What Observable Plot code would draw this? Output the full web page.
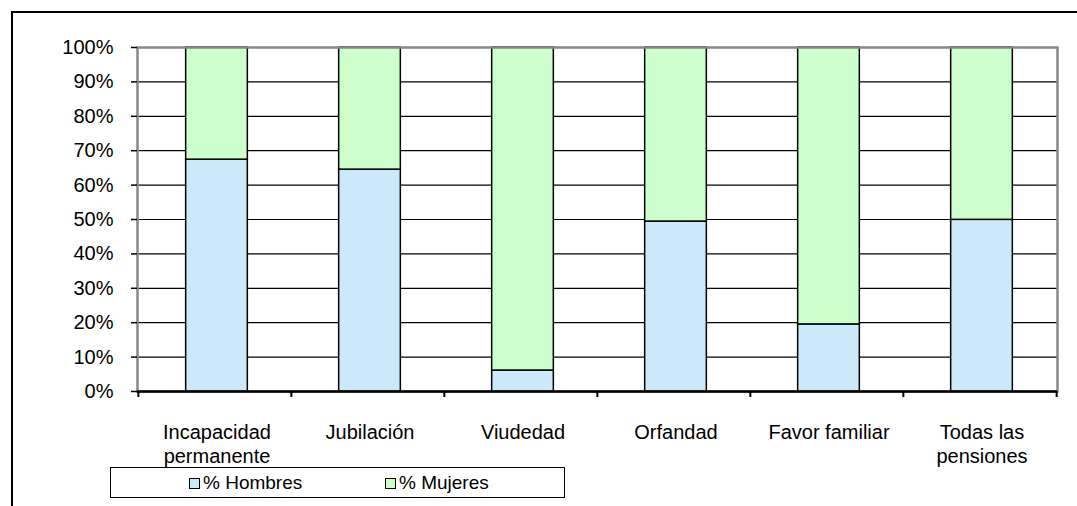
<!DOCTYPE html>
<html>
<head>
<meta charset="utf-8">
<script src="https://cdn.jsdelivr.net/npm/d3@7"></script>
<script src="https://cdn.jsdelivr.net/npm/@observablehq/plot@0.6"></script>
<style>
  body { margin: 0; background: #fff; }
  #wrap { position: relative; width: 1077px; height: 506px; overflow: hidden; background: #fff; font-family: "Liberation Sans", Arial, sans-serif; }
  #frame { position: absolute; left: 11px; top: 11px; width: 1080px; height: 520px; border-left: 2px solid #000; border-top: 2px solid #000; }
  #chart { position: absolute; left: 0; top: 0; }
  #legend { position: absolute; left: 110px; top: 467px; width: 453px; height: 29px; border: 1.5px solid #000; font-size: 19px; color: #000; background: #fff; }
  .item { position: absolute; top: 4px; display: flex; align-items: center; white-space: nowrap; }
  .sw { width: 9px; height: 9px; border: 1.5px solid #000; margin-right: 3px; display: inline-block; }
</style>
</head>
<body>
<div id="wrap">
  <div id="frame"></div>
  <div id="chart"></div>
  <div id="legend"></div>
</div>
<script>
const categories = ["Incapacidad\npermanente", "Jubilación", "Viudedad", "Orfandad", "Favor familiar", "Todas las\npensiones"];
const hombres = [67.4, 64.5, 6.1, 49.4, 19.5, 49.9];
const mujeres = [32.6, 35.5, 93.9, 50.6, 80.5, 50.1];
const seriesNames = ["% Hombres", "% Mujeres"];
const seriesColors = ["#CCE9FB", "#CCFFCC"];
const yTicks = [0, 10, 20, 30, 40, 50, 60, 70, 80, 90, 100];

const data = [];
categories.forEach((c, i) => {
  data.push({cat: c, serie: seriesNames[0], value: hombres[i]});
  data.push({cat: c, serie: seriesNames[1], value: mujeres[i]});
});

const W = 1077, H = 506, mL = 137, mR = 20, mT = 47, mB = 115;
const step = (W - mL - mR) / categories.length;
const barW = 62;
const inset = (step - barW) / 2;
const plotH = H - mT - mB;
const tickLen = 6 / (plotH / 100);

const chart = Plot.plot({
  width: W,
  height: H,
  marginLeft: mL,
  marginRight: mR,
  marginTop: mT,
  marginBottom: mB,
  style: {fontFamily: "Liberation Sans, Arial, sans-serif", fontSize: "20px", color: "#000", background: "transparent"},
  x: {domain: categories, padding: 0},
  y: {domain: [0, 100]},
  color: {domain: seriesNames, range: seriesColors},
  marks: [
    Plot.gridY(yTicks, {stroke: "#000", strokeOpacity: 1, strokeWidth: 1.2}),
    Plot.barY(data, {x: "cat", y: "value", fill: "serie", stroke: "#000", strokeWidth: 1.5, insetLeft: inset + 2, insetRight: inset - 2}),
    Plot.frame({stroke: "#888", strokeWidth: 2.5}),
    Plot.ruleY([0], {stroke: "#000", strokeWidth: 2.5}),
    Plot.ruleX(categories, {x: d => d, dx: -step / 2, y1: 0, y2: -tickLen, stroke: "#000", strokeWidth: 2}),
    Plot.ruleX(categories.slice(-1), {x: d => d, dx: step / 2, y1: 0, y2: -tickLen, stroke: "#000", strokeWidth: 2}),
    Plot.axisY(yTicks, {tickFormat: d => d + "%", tickSize: 6, tickPadding: 18, fontSize: 20, label: null, stroke: "#000", strokeWidth: 1.5}),
    Plot.axisX({tickSize: 0, tickPadding: 30, fontSize: 20, lineHeight: 1.2, label: null, dx: 2})
  ]
});
document.getElementById("chart").appendChild(chart);

const legend = document.getElementById("legend");
const lx = [78, 274];
seriesNames.forEach((s, i) => {
  const it = document.createElement("div");
  it.className = "item";
  it.style.left = lx[i] + "px";
  const sw = document.createElement("span");
  sw.className = "sw";
  sw.style.background = seriesColors[i];
  it.appendChild(sw);
  it.appendChild(document.createTextNode(s));
  legend.appendChild(it);
});
</script>
</body>
</html>
